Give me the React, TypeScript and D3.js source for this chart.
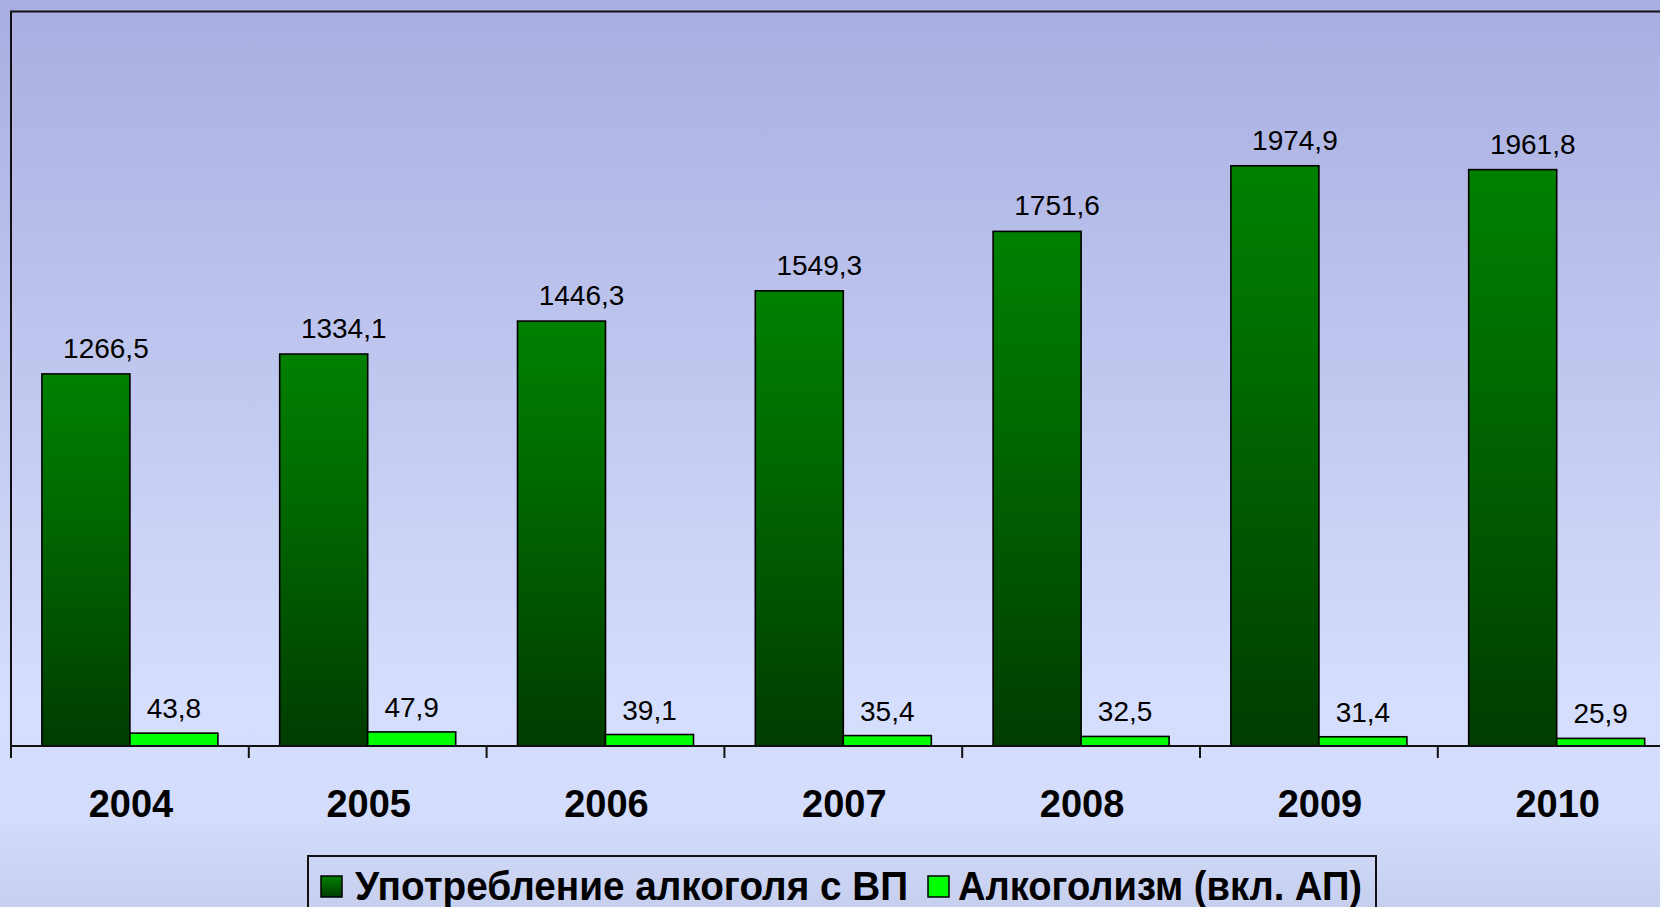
import React, { useRef, useEffect } from "react";
import * as d3 from "d3";

const years = ["2004", "2005", "2006", "2007", "2008", "2009", "2010"];
const alcoholUse = [1266.5, 1334.1, 1446.3, 1549.3, 1751.6, 1974.9, 1961.8];
const alcoholism = [43.8, 47.9, 39.1, 35.4, 32.5, 31.4, 25.9];
const seriesNames = ["Употребление алкоголя с ВП", "Алкоголизм (вкл. АП)"];

const fmt = (v: number) => v.toFixed(1).replace(".", ",");

const App = () => {
  const svgRef = useRef<SVGSVGElement>(null);

  useEffect(() => {
    document.body.style.margin = "0";
    document.body.style.overflow = "hidden";

    const W = 1660;
    const H = 907;
    const left = 11;
    const top = 11.5;
    const base = 746;
    const step = 237.8;

    const svg = d3.select(svgRef.current).attr("width", W).attr("height", H);
    svg.selectAll("*").remove();

    const defs = svg.append("defs");
    const bg = defs
      .append("linearGradient")
      .attr("id", "bg")
      .attr("x1", 0)
      .attr("y1", 0)
      .attr("x2", 0)
      .attr("y2", 1);
    bg.append("stop").attr("offset", "0").attr("stop-color", "#a8aee0");
    bg.append("stop").attr("offset", "0.78").attr("stop-color", "#d6defd");
    bg.append("stop").attr("offset", "0.9").attr("stop-color", "#d3dcfa");
    bg.append("stop").attr("offset", "1").attr("stop-color", "#c6cfee");

    const dark = defs
      .append("linearGradient")
      .attr("id", "dark")
      .attr("x1", 0)
      .attr("y1", 0)
      .attr("x2", 0)
      .attr("y2", 1);
    dark.append("stop").attr("offset", "0").attr("stop-color", "#008000");
    dark.append("stop").attr("offset", "0.3").attr("stop-color", "#006e00");
    dark.append("stop").attr("offset", "1").attr("stop-color", "#003c00");

    svg.append("rect").attr("width", W).attr("height", H).attr("fill", "url(#bg)");

    // Scales
    const x = d3
      .scaleBand()
      .domain(years)
      .range([left, left + step * years.length]);
    const xs = d3
      .scaleBand()
      .domain(["a", "b"])
      .range([30.9, step - 30.9]);
    const y = d3.scaleLinear().domain([0, 2500]).range([base, top]);

    // Plot frame
    svg
      .append("path")
      .attr("d", `M${left},${base}V${top}H${W + 20}`)
      .attr("fill", "none")
      .attr("stroke", "#111")
      .attr("stroke-width", 2);

    const g = svg.append("g");

    // Dark bars
    g.selectAll(".use")
      .data(alcoholUse)
      .enter()
      .append("rect")
      .attr("x", (d, i) => x(years[i])! + xs("a")!)
      .attr("y", (d) => y(d))
      .attr("width", xs.bandwidth())
      .attr("height", (d) => base - y(d))
      .attr("fill", "url(#dark)")
      .attr("stroke", "#000")
      .attr("stroke-width", 1.6);

    // Light bars
    g.selectAll(".alc")
      .data(alcoholism)
      .enter()
      .append("rect")
      .attr("x", (d, i) => x(years[i])! + xs("b")!)
      .attr("y", (d) => y(d))
      .attr("width", xs.bandwidth())
      .attr("height", (d) => base - y(d))
      .attr("fill", "#00ff00")
      .attr("stroke", "#000")
      .attr("stroke-width", 1.6);

    // Value labels
    const labelFont = "Liberation Sans, Arial, sans-serif";
    g.selectAll(".useLbl")
      .data(alcoholUse)
      .enter()
      .append("text")
      .attr("x", (d, i) => x(years[i])! + xs("a")! + xs.bandwidth() / 2 + 20)
      .attr("y", (d) => y(d) - 16)
      .attr("text-anchor", "middle")
      .attr("font-family", labelFont)
      .attr("font-size", 28)
      .attr("fill", "#000")
      .text((d) => fmt(d));

    g.selectAll(".alcLbl")
      .data(alcoholism)
      .enter()
      .append("text")
      .attr("x", (d, i) => x(years[i])! + xs("b")! + xs.bandwidth() / 2)
      .attr("y", (d) => y(d) - 15)
      .attr("text-anchor", "middle")
      .attr("font-family", labelFont)
      .attr("font-size", 28)
      .attr("fill", "#000")
      .text((d) => fmt(d));

    // X axis
    const axis = svg
      .append("g")
      .attr("transform", `translate(0,${base})`)
      .call(d3.axisBottom(x).tickSize(0).tickFormat(() => ""));
    axis.select(".domain").remove();
    axis
      .append("line")
      .attr("x1", left)
      .attr("x2", W + 20)
      .attr("stroke", "#111")
      .attr("stroke-width", 2);
    axis
      .selectAll(".tk")
      .data(years)
      .enter()
      .append("line")
      .attr("x1", (d) => x(d)!)
      .attr("x2", (d) => x(d)!)
      .attr("y1", 0)
      .attr("y2", 12)
      .attr("stroke", "#111")
      .attr("stroke-width", 2);
    axis
      .selectAll(".yr")
      .data(years)
      .enter()
      .append("text")
      .attr("x", (d) => x(d)! + x.bandwidth() / 2 + 1)
      .attr("y", 71)
      .attr("text-anchor", "middle")
      .attr("font-family", labelFont)
      .attr("font-weight", "bold")
      .attr("font-size", 38)
      .attr("fill", "#000")
      .text((d) => d);

    // Legend
    const lg = svg.append("g");
    lg.append("rect")
      .attr("x", 308)
      .attr("y", 856)
      .attr("width", 1068)
      .attr("height", 80)
      .attr("fill", "none")
      .attr("stroke", "#111")
      .attr("stroke-width", 2);
    const items = [
      { fill: "url(#dark)", mx: 321, tx: 355, w: 553 },
      { fill: "#00ff00", mx: 928, tx: 958, w: 404 },
    ];
    items.forEach((it, i) => {
      lg.append("rect")
        .attr("x", it.mx)
        .attr("y", 876)
        .attr("width", 21)
        .attr("height", 21)
        .attr("fill", it.fill)
        .attr("stroke", "#000")
        .attr("stroke-width", 1.5);
      lg.append("text")
        .attr("x", it.tx)
        .attr("y", 900)
        .attr("font-family", labelFont)
        .attr("font-weight", "bold")
        .attr("font-size", 40)
        .attr("textLength", it.w)
        .attr("lengthAdjust", "spacingAndGlyphs")
        .attr("fill", "#000")
        .text(seriesNames[i]);
    });
  }, []);

  return (
    <svg
      ref={svgRef}
      style={{ position: "absolute", left: 0, top: 0, display: "block" }}
    ></svg>
  );
};

export default App;
